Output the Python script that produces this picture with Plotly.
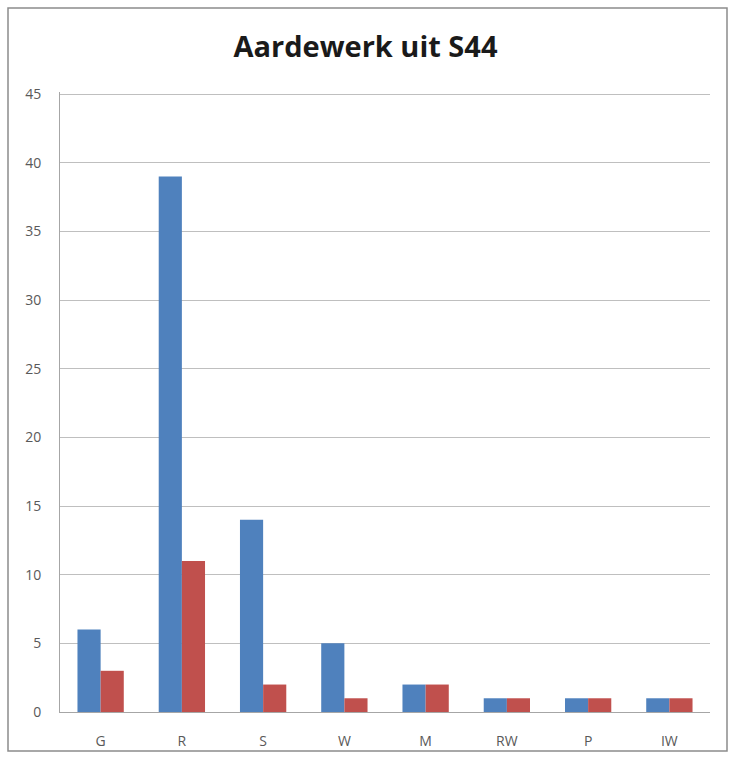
import plotly.graph_objects as go

categories = ["G", "R", "S", "W", "M", "RW", "P", "IW"]
series_blue = [6, 39, 14, 5, 2, 1, 1, 1]
series_red = [3, 11, 2, 1, 2, 1, 1, 1]
y_ticks = [0, 5, 10, 15, 20, 25, 30, 35, 40, 45]

W, H = 731, 758
ML, MR, MT, MB = 60, 21, 92, 46
pw, ph = W - ML - MR, H - MT - MB

fig = go.Figure()
fig.add_trace(go.Bar(x=categories, y=series_blue, marker=dict(color="#4F81BD", line=dict(width=0)), name="A"))
fig.add_trace(go.Bar(x=categories, y=series_red, marker=dict(color="#C0504D", line=dict(width=0)), name="B"))

def px_x(p):
    return (p - ML) / pw

def px_y(p):
    return 1 - (p - MT) / ph

fig.update_layout(
    width=W, height=H,
    margin=dict(l=ML, r=MR, t=MT, b=MB, autoexpand=False),
    paper_bgcolor="white", plot_bgcolor="white",
    barmode="group", bargap=0.43, bargroupgap=0,
    showlegend=False,
    title=dict(text="<b>Aardewerk uit S44</b>", x=0.5, xanchor="center", y=1 - 47 / H, yanchor="middle",
               font=dict(family="Open Sans", size=29, color="#1a1a1a")),
    font=dict(family="Open Sans", color="#595959"),
    xaxis=dict(showgrid=False, showline=True, linecolor="#a6a6a6", linewidth=1, ticks="", automargin=False,
               tickfont=dict(size=14, color="#595959"), ticklabelstandoff=16),
    yaxis=dict(range=[0, 45.15], tickvals=y_ticks, showgrid=True, gridcolor="#bfbfbf", gridwidth=1,
               showline=True, linecolor="#a6a6a6", linewidth=1, ticks="", zeroline=False, automargin=False,
               tickfont=dict(size=14, color="#595959"), ticklabelstandoff=15),
    shapes=[dict(type="rect", xref="paper", yref="paper",
                 x0=px_x(8), x1=px_x(727), y0=px_y(8), y1=px_y(751),
                 line=dict(color="#8c8c8c", width=1.5), fillcolor="rgba(0,0,0,0)", layer="below")],
)

fig.write_html("out.html")
